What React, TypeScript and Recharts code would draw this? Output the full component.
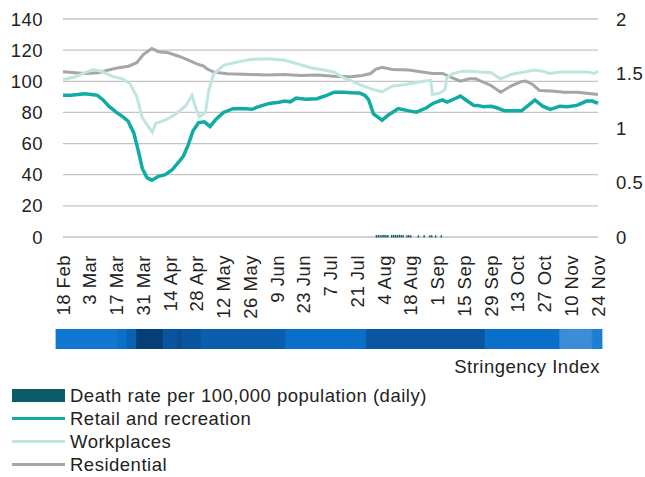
import {
  ComposedChart,
  Line,
  Bar,
  BarChart,
  XAxis,
  YAxis,
  CartesianGrid,
} from 'recharts';

// day 0 = 18 Feb, one tick every 14 days
const dateLabels = [
  '18 Feb', '3 Mar', '17 Mar', '31 Mar', '14 Apr', '28 Apr', '12 May',
  '26 May', '9 Jun', '23 Jun', '7 Jul', '21 Jul', '4 Aug', '18 Aug',
  '1 Sep', '15 Sep', '29 Sep', '13 Oct', '27 Oct', '10 Nov', '24 Nov',
];
const leftTicks = [0, 20, 40, 60, 80, 100, 120, 140];
const rightTicks = [0, 0.5, 1, 1.5, 2];

// [day, value]
const retail: [number, number][] = [
  [0, 91], [4, 91], [8, 91.5], [11, 92], [15, 91.5], [18, 91], [21, 88], [24, 84],
  [28, 80], [31, 77.5], [34, 74.5], [37, 67], [39.5, 55], [41.5, 44], [44, 38],
  [46.5, 36.5], [50, 39], [53.5, 40], [57, 43], [60.5, 48], [63, 52], [65.5, 59],
  [68, 68], [71, 73.5], [74, 74], [77, 71], [80, 75.5], [84, 80], [89, 82.4],
  [94, 82.5], [99, 82], [102, 83.6], [108, 85.8], [113, 86.6], [116, 87.3],
  [119, 86.8], [122, 89.2], [127, 88.4], [133, 88.8], [138, 91], [142, 93],
  [147, 93], [151, 92.6], [155, 92.5], [158, 91], [160, 88], [162.5, 79], [167, 75],
  [170.5, 78.5], [175.5, 82.5], [181, 81], [185, 80.2], [190, 82.8], [194, 86],
  [198.5, 88], [201, 86.6], [205, 88.8], [208, 90.5], [212, 87], [215, 84.5],
  [217, 84.5], [220, 83.6], [224, 84], [227, 83], [231, 81], [236, 81], [240, 81],
  [244, 85], [247, 88], [251, 84], [255, 82], [260, 84], [264, 83.6], [269, 84.5],
  [274, 87.3], [277, 87.3], [280, 85.8],
];

const workplaces: [number, number][] = [
  [0, 101.2], [6, 102.7], [11.5, 105.5], [16, 107.6], [20, 106.5], [25.5, 103.3],
  [31, 101.6], [35, 98.6], [38.5, 90.5], [41.5, 76.6], [44.5, 71.2], [46.8, 67.4],
  [48.5, 73], [53.5, 75], [58.7, 78.7], [64, 84], [67.5, 91], [69.2, 84],
  [71.3, 77.2], [74.5, 79.8], [76.2, 93.7], [78.8, 104.4], [84, 110.2], [91, 112.3],
  [98, 114], [107, 114.4], [115.5, 113.6], [124, 110.8], [129.5, 108.7],
  [136.5, 107.2], [141.7, 106], [147, 102.2], [150.5, 100.5], [155, 98], [162, 94.8],
  [167, 93.3], [172.4, 96.9], [179.3, 98], [186.3, 99.5], [192.4, 100.7],
  [193.3, 91.5], [196.8, 92.2], [200, 94.8], [200.8, 102.2], [203.8, 104.8],
  [209, 106.5], [213.4, 106.5], [218.7, 105.9], [224, 105.5], [229, 101.6],
  [234.4, 104.4], [241.4, 105.9], [246.6, 107.2], [251, 106.5], [254.5, 105],
  [260.6, 106], [267.6, 106], [274.6, 105.9], [278, 105], [280, 106.5],
];

const residential: [number, number][] = [
  [0, 106.1], [6.3, 105.5], [11.5, 105], [18.5, 105.5], [23.8, 107.2], [29, 108.7],
  [34.3, 109.7], [38.6, 111.9], [42, 117.2], [46.5, 121], [50, 119], [55.2, 118.3],
  [60.5, 116.1], [65.7, 113.6], [70, 111.2], [73.6, 109.7], [75.3, 108],
  [78.8, 105.9], [85.8, 104.8], [98, 104.4], [106.8, 104], [115.5, 104.4],
  [124.3, 103.7], [133, 104], [141.7, 103.3], [150.5, 102.9], [156.6, 103.7],
  [161, 105], [163.6, 107.6], [167, 109], [172.4, 107.6], [181, 107.2], [188, 105.9],
  [193.3, 105], [198.6, 105], [203.8, 102.2], [208, 100.1], [212.4, 101.6],
  [216, 101.6], [218.7, 100.1], [224, 97.3], [229, 93], [234.4, 96.9],
  [239.6, 99.7], [242.2, 100.1], [245.8, 98], [249.3, 94.1], [255.4, 93.7],
  [262.4, 93], [269.4, 93], [276.4, 92], [280, 91.5],
];

const deathRate: [number, number][] = [
  [164, 0.012], [165, 0.012], [166, 0.01], [167, 0.012], [168, 0.014], [169, 0.012],
  [170, 0.012], [172, 0.012], [173, 0.014], [174, 0.014], [175, 0.012], [176, 0.014],
  [177, 0.012], [178, 0.012], [180, 0.01], [181, 0.012], [182, 0.01], [186, 0.01],
  [189, 0.01], [192, 0.01], [193, 0.01], [195, 0.01], [198, 0.01],
];

// stringency strip: length of each period in days, and the index for it
const stringencyDays = [32, 5, 5, 14, 7, 3, 10, 44, 42, 62, 39, 17, 5];
const stringencyIndex = [30, 45, 60, 80, 70, 74, 70, 65, 45, 69, 45, 20, 27];

const COLORS = {
  death: '#0b5c66',
  retail: '#10aca3',
  work: '#bfe5e1',
  resid: '#a6a6a6',
  grid: '#c4c4c4',
  text: '#222',
};
const FONT = '"Liberation Sans", Arial, sans-serif';

const stops: [number, number[]][] = [
  [20, [58, 141, 214]],
  [30, [17, 119, 209]],
  [45, [10, 111, 200]],
  [65, [10, 94, 171]],
  [70, [11, 84, 160]],
  [75, [10, 75, 143]],
  [80, [6, 63, 120]],
];

function stringencyColor(v: number): string {
  if (v <= stops[0][0]) return `rgb(${stops[0][1].join(',')})`;
  for (let i = 1; i < stops.length; i++) {
    const [v1, c1] = stops[i];
    const [v0, c0] = stops[i - 1];
    if (v <= v1) {
      const t = (v - v0) / (v1 - v0);
      const c = c0.map((a, k) => Math.round(a + (c1[k] - a) * t));
      return `rgb(${c.join(',')})`;
    }
  }
  return `rgb(${stops[stops.length - 1][1].join(',')})`;
}

// merge everything into one table keyed by day
const rows = new Map<number, any>();
const put = (list: [number, number][], key: string) =>
  list.forEach(([d, v]) => {
    const r = rows.get(d) ?? { day: d };
    r[key] = v;
    rows.set(d, r);
  });
put(retail, 'retail');
put(workplaces, 'work');
put(residential, 'resid');
put(deathRate, 'death');
const data = [...rows.values()].sort((a, b) => a.day - b.day);

const stripRow: any = { name: 'SI' };
stringencyDays.forEach((d, i) => (stripRow[`s${i}`] = d));
const stripTotal = stringencyDays.reduce((a, b) => a + b, 0);

const DateTick = (props: any) => {
  const { x, y, payload } = props;
  return (
    <text
      x={x}
      y={y + 2}
      transform={`rotate(-90 ${x} ${y + 2})`}
      textAnchor="end"
      dy="0.36em"
      fontSize={18.5}
      fontFamily={FONT}
      letterSpacing={0.5}
      fill={COLORS.text}
    >
      {dateLabels[Math.round(payload.value / 14)]}
    </text>
  );
};

const tickStyle = { fontSize: 18.5, fill: COLORS.text, fontFamily: FONT, letterSpacing: 0.5 };

const legendItems = [
  { label: 'Death rate per 100,000 population (daily)', color: COLORS.death, h: 13 },
  { label: 'Retail and recreation', color: COLORS.retail, h: 3.5 },
  { label: 'Workplaces', color: COLORS.work, h: 3.5 },
  { label: 'Residential', color: COLORS.resid, h: 3.5 },
];

export default function App() {
  return (
    <div style={{ position: 'absolute', left: 0, top: 0, width: 645, height: 477, background: '#fff' }}>
      <ComposedChart
        width={645}
        height={320}
        data={data}
        margin={{ top: 19, right: 0, bottom: 0, left: 0 }}
      >
        <CartesianGrid yAxisId="left" vertical={false} stroke={COLORS.grid} strokeWidth={1.3} />
        <XAxis
          dataKey="day"
          type="number"
          domain={[0, 280]}
          ticks={dateLabels.map((_, i) => i * 14)}
          interval={0}
          axisLine={false}
          tickLine={false}
          tickSize={0}
          tickMargin={16}
          height={83}
          tick={<DateTick />}
        />
        <YAxis
          yAxisId="left"
          domain={[0, 140]}
          ticks={leftTicks}
          width={63}
          axisLine={false}
          tickLine={false}
          tickSize={0}
          tickMargin={20}
          tick={tickStyle}
        />
        <YAxis
          yAxisId="right"
          orientation="right"
          domain={[0, 2]}
          ticks={rightTicks}
          width={47}
          axisLine={false}
          tickLine={false}
          tickSize={0}
          tickMargin={18}
          tick={tickStyle}
        />
        <Bar
          yAxisId="right"
          dataKey="death"
          fill={COLORS.death}
          stroke={COLORS.death}
          strokeWidth={1.2}
          barSize={3}
          isAnimationActive={false}
        />
        <Line yAxisId="left" dataKey="resid" stroke={COLORS.resid} strokeWidth={3} dot={false} connectNulls isAnimationActive={false} />
        <Line yAxisId="left" dataKey="work" stroke={COLORS.work} strokeWidth={3} dot={false} connectNulls isAnimationActive={false} />
        <Line yAxisId="left" dataKey="retail" stroke={COLORS.retail} strokeWidth={3.5} dot={false} connectNulls isAnimationActive={false} />
      </ComposedChart>

      <div style={{ position: 'absolute', left: 0, top: 329 }}>
        <BarChart
          width={645}
          height={20}
          layout="vertical"
          data={[stripRow]}
          barCategoryGap={0}
          margin={{ top: 0, right: 43, bottom: 0, left: 56 }}
        >
          <XAxis type="number" domain={[0, stripTotal]} hide />
          <YAxis type="category" dataKey="name" hide />
          {stringencyDays.map((_, i) => (
            <Bar
              key={i}
              dataKey={`s${i}`}
              stackId="si"
              fill={stringencyColor(stringencyIndex[i])}
              stroke={stringencyColor(stringencyIndex[i])}
              strokeWidth={0.8}
              isAnimationActive={false}
            />
          ))}
        </BarChart>
      </div>

      <div
        style={{
          position: 'absolute',
          right: 45,
          top: 356,
          fontFamily: FONT,
          fontSize: 18.5,
          letterSpacing: 0.5,
          color: COLORS.text,
          lineHeight: '22px',
        }}
      >
        Stringency Index
      </div>

      {legendItems.map((it, i) => (
        <div
          key={it.label}
          style={{
            position: 'absolute',
            left: 12,
            top: 384 + i * 23,
            height: 23,
            display: 'flex',
            alignItems: 'center',
            fontFamily: FONT,
            fontSize: 18.5,
            letterSpacing: 0.5,
            color: COLORS.text,
            whiteSpace: 'nowrap',
          }}
        >
          <span style={{ display: 'inline-block', width: 53, height: it.h, background: it.color, marginRight: 5 }} />
          {it.label}
        </div>
      ))}
    </div>
  );
}
